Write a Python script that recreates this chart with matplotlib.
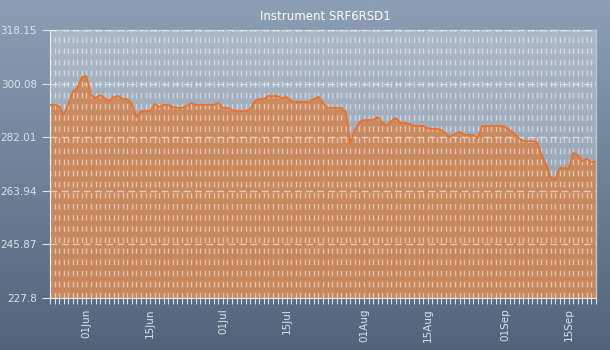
import numpy as np
import pandas as pd
import matplotlib
matplotlib.use("Agg")
from matplotlib import pyplot as plt
import matplotlib.dates as mdates

# daily readings, 24 May - 21 Sep
start_date = "2011-05-24"
values = [
    292.9, 292.9, 292.5, 289.5, 292.9, 297.3, 298.6, 302.3, 302.6, 296.2,
    295.2, 296.2, 295.2, 294.2, 295.6, 295.9, 294.9, 294.9, 293.2, 288.8,
    290.8, 290.8, 290.8, 293.2, 292.2, 292.9, 292.9, 292.2, 291.9, 291.9,
    292.5, 293.5, 292.9, 292.9, 292.9, 292.9, 292.9, 293.5, 291.9, 291.9,
    291.2, 290.8, 290.8, 290.8, 291.5, 294.2, 294.9, 294.9, 295.9, 295.9,
    295.9, 295.2, 295.6, 294.2, 293.9, 293.9, 293.9, 293.9, 294.9, 295.6,
    293.5, 291.9, 291.9, 291.9, 291.9, 290.5, 280.1, 284.4, 287.1, 287.8,
    287.8, 287.8, 288.8, 287.1, 285.8, 287.5, 288.5, 286.8, 286.8, 286.5,
    285.8, 285.8, 285.8, 285.1, 284.8, 284.8, 284.4, 283.1, 282.1, 283.1,
    283.8, 282.8, 282.8, 282.8, 281.7, 285.8, 285.8, 285.8, 285.8, 285.8,
    285.5, 284.4, 283.4, 281.7, 280.7, 280.7, 280.7, 280.4, 276.3, 273.0,
    268.6, 267.6, 271.6, 271.6, 271.6, 276.7, 276.0, 274.0, 274.7, 273.7,
    273.7,
]
y_ticks = [227.8, 245.87, 263.94, 282.01, 300.08, 318.15]
y_labels = ["227.8", "245.87", "263.94", "282.01", "300.08", "318.15"]
title = "Instrument SRF6RSD1"

dates = pd.date_range(start_date, periods=len(values), freq="D")

fig = plt.figure(figsize=(6.1, 3.5), dpi=100)

# vertical gradient behind everything
bg = fig.add_axes([0, 0, 1, 1], zorder=-10)
top = np.array([0x8c, 0x9f, 0xb4]) / 255
bot = np.array([0x52, 0x64, 0x7a]) / 255
t = np.linspace(0, 1, 256)[:, None]
grad = (top * (1 - t) + bot * t)[:, None, :]
bg.imshow(grad, aspect="auto", extent=[0, 1, 0, 1])
bg.axis("off")

ax = fig.add_axes([50 / 610, 52 / 350, 546 / 610, 268 / 350])
ax.set_facecolor((1, 1, 1, 0.3))

ax.fill_between(dates, values, y_ticks[0], color="#d4834c", alpha=0.82,
                linewidth=0, zorder=1)
ax.plot(dates, values, color="#f26b1d", linewidth=1.2, zorder=4)

ax.set_xlim(dates[0], dates[-1])
ax.set_ylim(y_ticks[0], y_ticks[-1])
ax.set_yticks(y_ticks)
ax.set_yticklabels(y_labels)

ax.xaxis.set_major_locator(mdates.DayLocator(bymonthday=[1, 15]))
ax.xaxis.set_minor_locator(mdates.DayLocator())
ax.xaxis.set_major_formatter(mdates.DateFormatter("%d%b"))
plt.setp(ax.get_xticklabels(), rotation=90)

ax.tick_params(axis="both", which="both", colors="#dde3ea", labelsize=7.5,
               direction="out")
ax.tick_params(axis="x", which="both", length=4, width=0.8)
ax.tick_params(axis="y", length=6, width=0.8)

ax.set_axisbelow(False)
ax.grid(axis="x", which="both", color="white", alpha=0.5, linewidth=1,
        linestyle=(0, (4, 4)), zorder=3)
ax.grid(axis="y", which="major", color="white", alpha=0.55, linewidth=1,
        linestyle=(0, (5, 3)), zorder=3)

for side in ["left", "bottom"]:
    ax.spines[side].set_color("#e6ebf0")
for side in ["top", "right"]:
    ax.spines[side].set_color("#b8c4d0")
    ax.spines[side].set_linewidth(1)

fig.text(325 / 610, 1 - 17 / 350, title, color="white", fontsize=8.5,
         ha="center", va="center")

fig.savefig("out.png", dpi=100)
